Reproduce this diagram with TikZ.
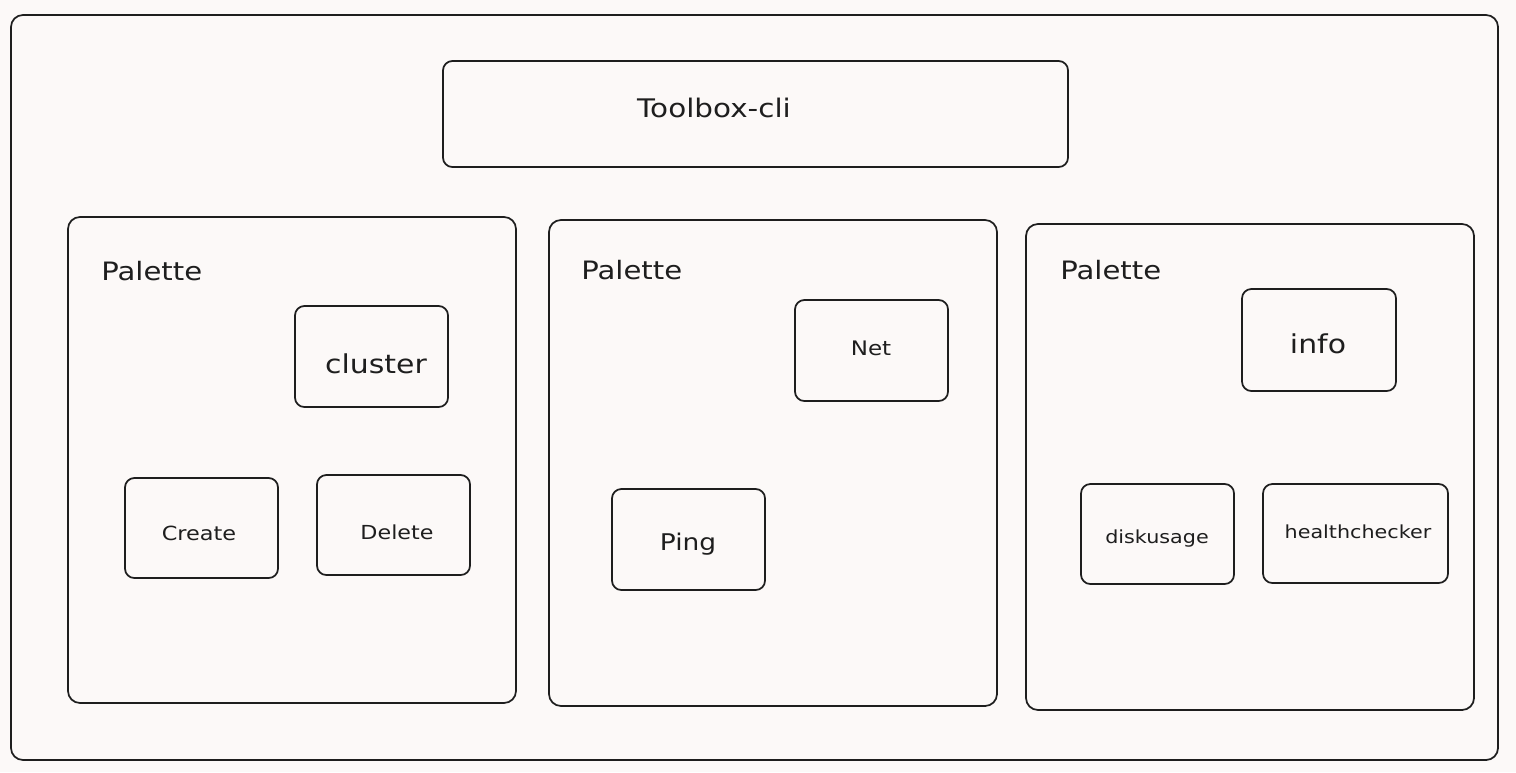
\documentclass[tikz,border=0pt]{standalone}
\usepackage{fontspec}
\newfontfamily\hand[FakeStretch=1.15]{DejaVu Sans}
\usetikzlibrary{fit}
\definecolor{bgc}{HTML}{FCF9F8}
\definecolor{ink}{HTML}{1E1E1E}
\tikzset{
  box/.style={draw=ink, line width=1.3pt, rounded corners=7pt, inner sep=0pt},
  bigbox/.style={draw=ink, line width=1.3pt, rounded corners=9pt, inner sep=0pt},
  lbl/.style={text=ink, inner sep=0pt, anchor=base, font=\hand},
}
\begin{document}
\begin{tikzpicture}[x=0.75pt, y=-0.75pt]
\fill[bgc] (0,0) rectangle (1516,772);
\useasboundingbox (0,0) rectangle (1516,772);
% outer frame
\node[bigbox, fit={(11,15) (1498,760)}] (frame) {};
% title box
\node[box, fit={(443,61) (1068,167)}] (toolbox) {};
\node[lbl, font=\hand\fontsize{19.2}{20}\selectfont] (toolboxtxt) at (714,117) {Toolbox-cli};
% palettes
\node[bigbox, fit={(68,217) (516,703)}] (pal1) {};
\node[bigbox, fit={(549,220) (997,706)}] (pal2) {};
\node[bigbox, fit={(1026,224) (1474,710)}] (pal3) {};
\node[lbl, anchor=base west, font=\hand\fontsize{19}{20}\selectfont] (pal1txt) at (101,280) {Palette};
\node[lbl, anchor=base west, font=\hand\fontsize{19}{20}\selectfont] (pal2txt) at (581,279) {Palette};
\node[lbl, anchor=base west, font=\hand\fontsize{19}{20}\selectfont] (pal3txt) at (1060,279) {Palette};
% palette 1 items
\node[box, fit={(295,306) (448,407)}] (cluster) {};
\node[lbl, font=\hand\fontsize{19.5}{20}\selectfont] (clustertxt) at (376,373) {cluster};
\node[box, fit={(125,478) (278,578)}] (create) {};
\node[lbl, font=\hand\fontsize{14.6}{16}\selectfont] (createtxt) at (199,540) {Create};
\node[box, fit={(317,475) (470,575)}] (delete) {};
\node[lbl, font=\hand\fontsize{14.5}{16}\selectfont] (deletetxt) at (397,539) {Delete};
% palette 2 items
\node[box, fit={(795,300) (948,401)}] (net) {};
\node[lbl, font=\hand\fontsize{15}{16}\selectfont] (nettxt) at (871,355) {Net};
\node[box, fit={(612,489) (765,590)}] (ping) {};
\node[lbl, font=\hand\fontsize{17.25}{18}\selectfont] (pingtxt) at (688,550) {Ping};
% palette 3 items
\node[box, fit={(1242,289) (1396,391)}] (info) {};
\node[lbl, font=\hand\fontsize{19.5}{20}\selectfont] (infotxt) at (1318,353) {info};
\node[box, fit={(1081,484) (1234,584)}] (disk) {};
\node[lbl, font=\hand\fontsize{13.5}{15}\selectfont] (disktxt) at (1157,543) {diskusage};
\node[box, fit={(1263,484) (1448,583)}] (health) {};
\node[lbl, font=\hand\fontsize{13.5}{15}\selectfont] (healthtxt) at (1358,538) {healthchecker};
\end{tikzpicture}
\end{document}
